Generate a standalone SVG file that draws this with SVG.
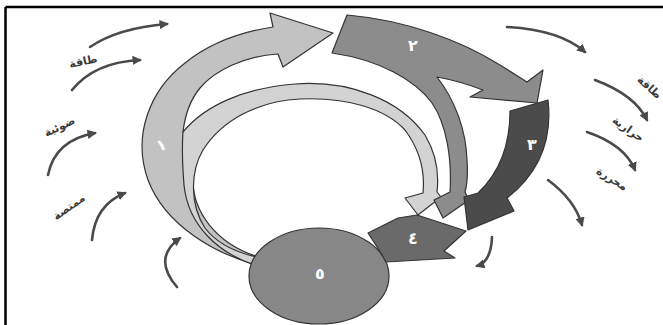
<svg xmlns="http://www.w3.org/2000/svg" width="663" height="325" viewBox="0 0 663 325">
<defs>
<marker id="ah" viewBox="0 0 10 10" refX="8" refY="5" markerWidth="3.6" markerHeight="3.6" orient="auto"><path d="M0,0 L10,5 L0,10 z" fill="#4a4a4a"/></marker>
</defs>
<style>
.arr{stroke:#333333;stroke-width:1.2;stroke-linejoin:round}
.num{font-family:"DejaVu Sans",sans-serif;font-size:16px;font-weight:bold;fill:#ffffff;text-anchor:middle}
.lbl{font-family:"DejaVu Sans",sans-serif;font-size:11px;font-weight:bold;fill:#3a3a3a;text-anchor:middle}
.con{fill:none;stroke:#4a4a4a;stroke-width:2.6;stroke-linecap:round;marker-end:url(#ah)}
</style>
<rect width="663" height="325" fill="#ffffff"/>
<line x1="5.5" y1="7" x2="663" y2="7" stroke="#000" stroke-width="2.5"/>
<line x1="5.5" y1="7" x2="5.5" y2="325" stroke="#000" stroke-width="2.5"/>

<g id="arrow1">
<path class="arr" fill="#c2c2c2" d="M262,266 C215,255 165,225 148,180 C132,135 150,90 185,63 C210,43 240,32 273,27 L270,13 L333,33 L283,67 L278,54 C245,56 215,70 200,88 C190,100 185,115 183,132 C190,150 193,165 193,178 C192,210 215,245 262,258 Z"/>
<path class="arr" fill="#d3d3d3" d="M183,132 C205,105 245,88 295,84 C350,80 400,100 425,135 C437,155 439,175 437,192 L441,197 L418,215 L405,198 L423,193 C425,172 420,150 405,130 C385,108 345,97 300,99 C258,101 222,120 203,150 C190,172 190,205 205,228 C218,245 240,254 262,258 L258,266 C218,254 188,225 184,185 C182,160 182,145 183,132 Z"/>
<text class="num" transform="translate(163,150) rotate(-20)">١</text>
</g>

<g id="arrow2">
<path class="arr" fill="#8c8c8c" d="M347,15 C405,20 460,40 500,65 L527,82 L543,70 L537,103 L470,97 L483,90 C465,83 448,79 437,77 C455,100 466,130 467,160 C468,175 467,185 465,192 L469,200 L443,218 L434,200 L450,192 C452,160 447,125 432,103 C415,80 380,60 332,53 Z"/>
<text class="num" x="413" y="51">٢</text>
</g>

<g id="arrow3">
<path class="arr" fill="#4b4b4b" d="M510,111 L548,100 C552,135 543,170 507,198 L514,211 L468,230 L464,197 L478,193 C497,175 510,150 510,111 Z"/>
<text class="num" x="532" y="150">٣</text>
</g>

<g id="circle5">
<ellipse class="arr" cx="319" cy="276" rx="70" ry="48" fill="#878787"/>
<text class="num" x="320" y="279">٥</text>
</g>

<g id="arrow4">
<path class="arr" fill="#6a6a6a" d="M368,233 L398,218 L417,215 L466,231 L444,251 L455,258 L386,262 L379,250 Z"/>
<text class="num" x="413" y="244">٤</text>
</g>

<g id="connectors">
<path class="con" d="M90,47 Q118,28 167,24"/>
<path class="con" d="M72,90 Q95,62 140,60"/>
<path class="con" d="M48,175 Q55,140 95,133"/>
<path class="con" d="M92,240 Q95,205 125,193"/>
<path class="con" d="M177,287 Q152,258 180,238"/>
<path class="con" d="M507,27 Q560,30 585,52"/>
<path class="con" d="M595,80 Q635,95 647,120"/>
<path class="con" d="M587,132 Q625,145 635,170"/>
<path class="con" d="M548,180 Q575,200 582,225"/>
<path class="con" d="M492,237 Q491,262 477,266"/>
</g>

<g id="labels">
<text class="lbl" transform="translate(84,65) rotate(-12)">طاقة</text>
<text class="lbl" transform="translate(61,130) rotate(-25)">ضوئية</text>
<text class="lbl" transform="translate(71,210) rotate(-35)">ممتصة</text>
<text class="lbl" transform="translate(647,90) rotate(42)">طاقة</text>
<text class="lbl" transform="translate(626,132) rotate(35)">حرارية</text>
<text class="lbl" transform="translate(610,182) rotate(32)">محررة</text>
</g>
</svg>
